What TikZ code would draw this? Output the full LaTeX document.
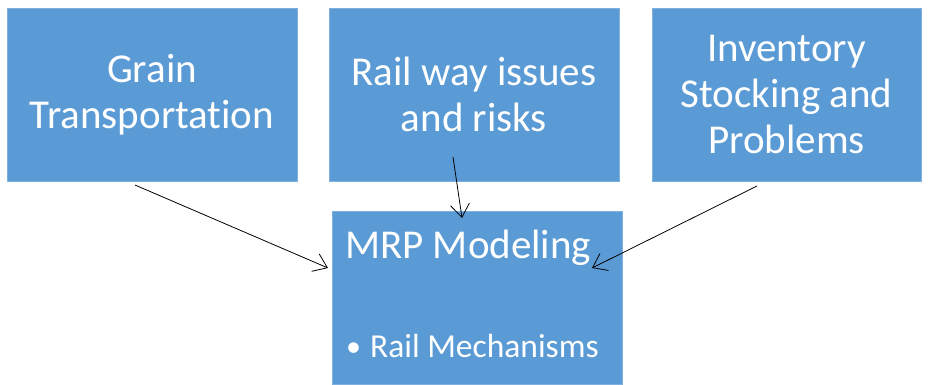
\documentclass[tikz,border=0pt]{standalone}
\usepackage{fontspec}
\setmainfont[Ligatures=NoCommon]{Carlito}
\usetikzlibrary{arrows.meta,positioning}
\definecolor{boxblue}{HTML}{5B9BD5}
\definecolor{boxedge}{HTML}{7FB1E0}

\begin{document}
\begin{tikzpicture}[x=1pt,y=-1pt,
 box/.style={rectangle,draw=boxedge,fill=boxblue,line width=0.8pt,align=center,
             minimum height=173pt,inner sep=0pt,text=white,
             font=\fontsize{41}{46}\selectfont},
 boxtext/.style={text=white,inner sep=0pt},
 arrow/.style={-{Straight Barb[length=13pt,width=19pt]},line width=0.8pt,draw=black}
]
\useasboundingbox (0,0) rectangle (930,384);
\node[box,minimum width=290pt] (grain) at (152,94.5) {Grain\\Transportation};
\node[box,minimum width=290pt] (rail) at (474,94.5) {Rail way issues\\and risks};
\node[box,minimum width=269pt] (stock) at (786.5,94.5) {Inventory\\Stocking and\\Problems};
\node[box,minimum width=290pt] (mrp) at (477,297.5) {};
\node[boxtext,anchor=base west,font=\fontsize{41}{46}\selectfont] (mrptitle) at (345,258) {MRP Modeling};
\node[boxtext,anchor=base west,font=\fontsize{33.5}{38}\selectfont] (mrpitem) at (346,357) {\makebox[24pt][l]{\raisebox{1pt}{\fontsize{30}{34}\selectfont\textbullet}}Rail Mechanisms};
\coordinate (grainend) at (135,185);
\coordinate (railend) at (453,157);
\coordinate (stockend) at (757,186);
\coordinate (mrpleft) at (328,268);
\coordinate (mrptop) at (462,218);
\coordinate (mrpright) at (592,268);
\draw[arrow] (grainend) -- (mrpleft);
\draw[arrow] (railend) -- (mrptop);
\draw[arrow] (stockend) -- (mrpright);
\end{tikzpicture}
\end{document}
